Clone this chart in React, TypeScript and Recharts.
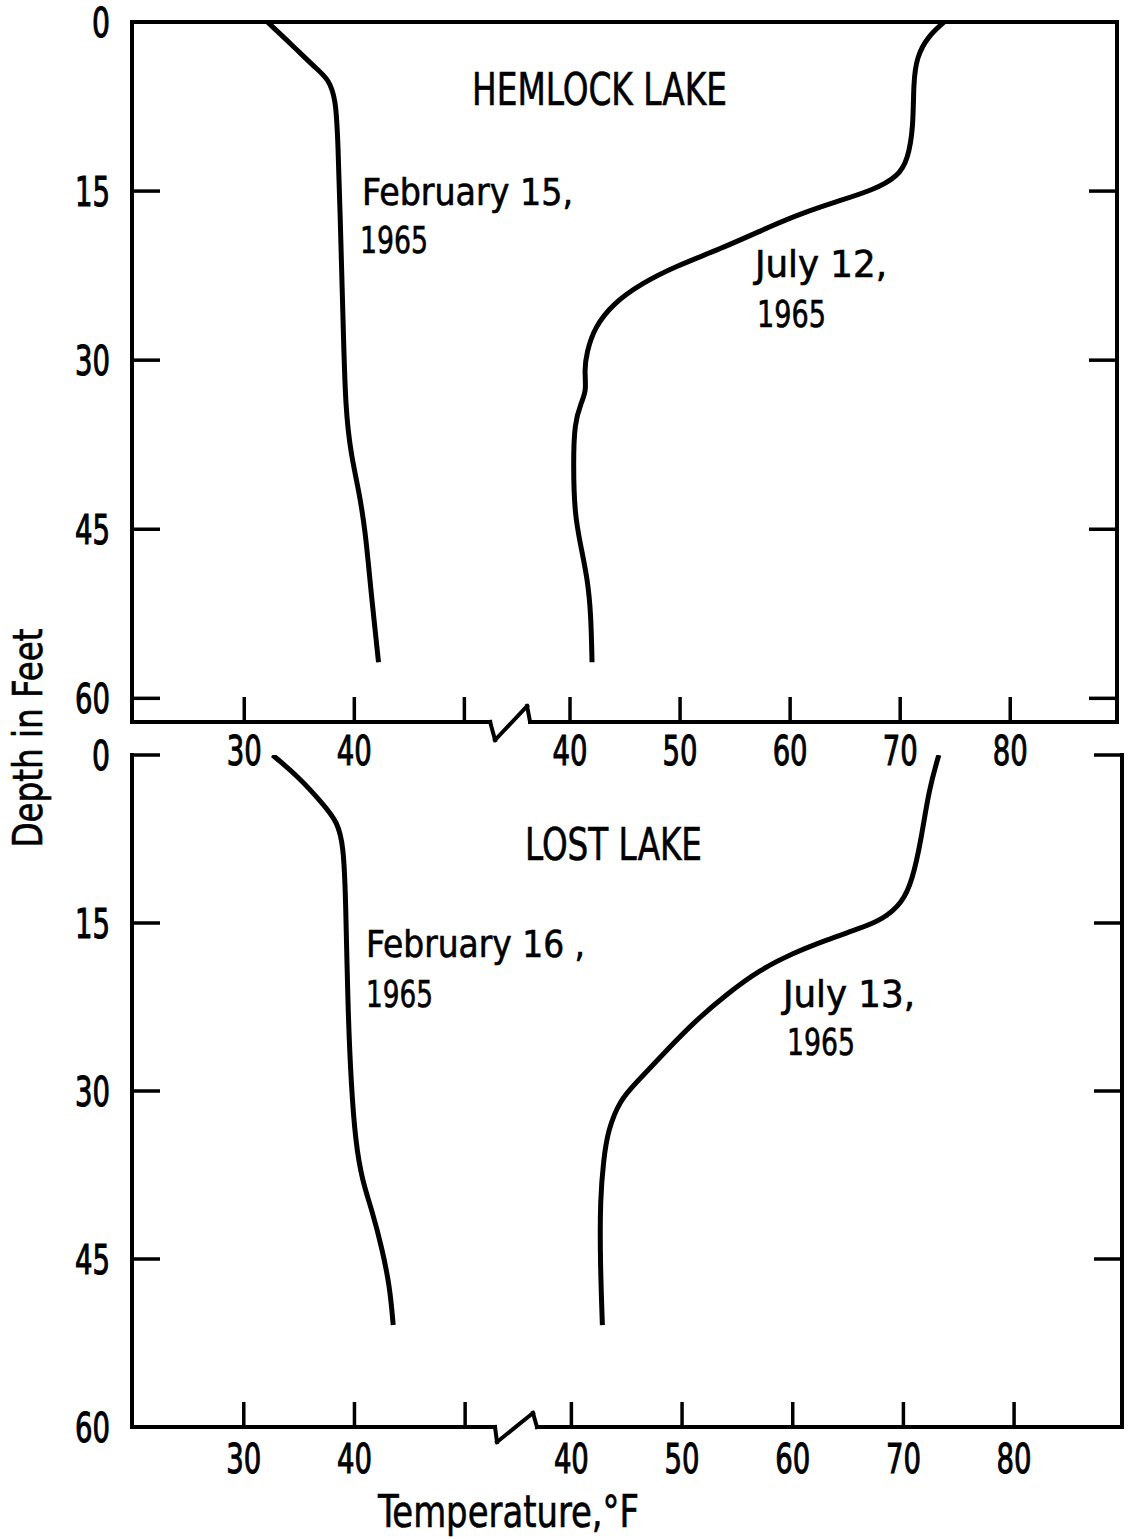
import React from 'react';
import { LineChart, Line, XAxis, YAxis, ReferenceLine } from 'recharts';

const FONT = '"Liberation Sans Narrow", "DejaVu Sans Condensed", "Liberation Sans", Arial, sans-serif';
const INK = '#000';

// ---- axis ticks / labels ----
const febAxisTicks = [30, 40, 50];
const febAxisLabels = ['30', '40', ''];
const julyAxisTicks = [40, 50, 60, 70, 80];
const julyAxisLabels = ['40', '50', '60', '70', '80'];
const depthTicks = [0, 15, 30, 45, 60];
const depthTickLabels = ['0', '15', '30', '45', '60'];

// the July scale sits to the right of the axis break
const JULY_SHIFT = 19.6;

// ---- Hemlock Lake (temperature °F at depth ft) ----
const hemlockFebDepth = [0, 2.0, 4.1, 5.1, 6.9, 9.9, 20.2, 27.3, 34.4, 38.4, 41.5, 45.1, 50.4, 56.8];
const hemlockFebTemp = [32.1, 34.3, 36.5, 37.7, 38.3, 38.5, 38.8, 39.0, 39.2, 39.7, 40.4, 41.0, 41.5, 42.2];
const hemlockJulDepth = [0, 1.3, 3.1, 5.4, 9.3, 12.2, 13.7, 14.9, 16.0, 17.0, 18.0, 20.0, 21.7, 23.2, 24.9, 27.1, 29.4, 30.9, 32.7, 33.8, 35.6, 39.1, 43.6, 46.6, 49.5, 52.5, 56.8];
const hemlockJulTemp = [74.0, 72.5, 71.5, 71.2, 71.2, 70.7, 69.8, 67.6, 64.0, 61.0, 58.5, 54.0, 49.5, 46.5, 44.0, 42.2, 41.5, 41.3, 41.5, 41.0, 40.4, 40.3, 40.4, 41.0, 41.6, 41.9, 42.0];

// ---- Lost Lake ----
const lostFebDepth = [0, 2.0, 4.3, 6.0, 8.2, 12.3, 22.6, 29.4, 34.6, 38.0, 40.7, 44.1, 47.5, 50.9];
const lostFebTemp = [32.6, 35.0, 37.1, 38.5, 39.0, 39.2, 39.4, 39.7, 40.1, 40.7, 41.6, 42.5, 43.2, 43.5];
const lostJulDepth = [0, 3.1, 7.6, 11.2, 13.2, 14.7, 15.5, 16.5, 17.7, 19.2, 21.3, 23.9, 27.0, 29.3, 30.8, 33.5, 36.2, 39.7, 45.1, 50.9];
const lostJulTemp = [73.2, 72.3, 71.6, 70.8, 69.9, 68.1, 66.0, 63.1, 60.0, 57.0, 54.1, 51.0, 48.0, 45.8, 44.4, 43.3, 42.9, 42.6, 42.6, 42.8];

const toPoints = (depths: number[], temps: number[], shift: number) =>
  depths.map((d, i) => ({ x: temps[i] + shift, depth: d }));

const xTickValues = [...febAxisTicks, ...julyAxisTicks.map((t) => t + JULY_SHIFT)];
const xTickLabels = [...febAxisLabels, ...julyAxisLabels];

const labelLen = (s: string) => (s.length <= 1 ? 18 : 35);

type PanelProps = {
  top: number;
  height: number;
  margin: { top: number; right: number; bottom: number; left: number };
  xDomain: [number, number];
  yMax: number;
  feb: { x: number; depth: number }[];
  jul: { x: number; depth: number }[];
  tickLineDepths: number[];
  topBorder: boolean;
  brk: { xs: number[]; low: number; high: number };
  xLabelDy: number;
};

function Panel(props: PanelProps) {
  const { top, height, margin, xDomain, yMax, feb, jul, tickLineDepths, topBorder, brk, xLabelDy } = props;

  const XTick = (p: any) => {
    const i = xTickValues.findIndex((t) => Math.abs(t - p.payload.value) < 1e-6);
    const lab = i >= 0 ? xTickLabels[i] : '';
    return (
      <g>
        <line x1={p.x} x2={p.x} y1={p.y} y2={p.y - 25} stroke={INK} strokeWidth={3.5} />
        {lab && (
          <text
            x={p.x}
            y={p.y + xLabelDy}
            textAnchor="middle"
            fontFamily={FONT}
            fontSize={41}
            fill={INK}
            stroke={INK}
            strokeWidth={1}
            textLength={labelLen(lab)}
            lengthAdjust="spacingAndGlyphs"
          >
            {lab}
          </text>
        )}
      </g>
    );
  };
  const LeftTick = (p: any) => {
    const v = p.payload.value;
    const i = depthTicks.indexOf(v);
    const lab = i >= 0 ? depthTickLabels[i] : '';
    return (
      <g>
        {tickLineDepths.includes(v) && (
          <line x1={p.x} x2={p.x + 28} y1={p.y} y2={p.y} stroke={INK} strokeWidth={3.5} />
        )}
        <text
          x={p.x - 22}
          y={p.y + 15}
          textAnchor="end"
          fontFamily={FONT}
          fontSize={41}
          fill={INK}
          stroke={INK}
          strokeWidth={1}
          textLength={labelLen(lab)}
          lengthAdjust="spacingAndGlyphs"
        >
          {lab}
        </text>
      </g>
    );
  };
  const RightTick = (p: any) => {
    const v = p.payload.value;
    return (
      <g>
        {tickLineDepths.includes(v) && (
          <line x1={p.x} x2={p.x - 28} y1={p.y} y2={p.y} stroke={INK} strokeWidth={3.5} />
        )}
      </g>
    );
  };

  const [a, b, c, d] = brk.xs;
  const axisSegs: [number, number, number, number][] = [
    [xDomain[0], yMax, a, yMax],
    [a, yMax, b, brk.low],
    [b, brk.low, c, brk.high],
    [c, brk.high, d, yMax],
    [d, yMax, xDomain[1], yMax],
  ];

  return (
    <div style={{ position: 'absolute', left: 0, top }}>
      <LineChart width={1131} height={height} margin={margin}>
        <XAxis
          type="number"
          dataKey="x"
          domain={xDomain}
          allowDataOverflow
          ticks={xTickValues}
          interval={0}
          height={1}
          tickSize={0}
          tickMargin={0}
          axisLine={false}
          tickLine={false}
          tick={XTick}
        />
        <YAxis
          yAxisId="left"
          type="number"
          dataKey="depth"
          domain={[0, yMax]}
          allowDataOverflow
          reversed
          ticks={depthTicks}
          interval={0}
          width={1}
          tickSize={0}
          tickMargin={0}
          axisLine={{ stroke: INK, strokeWidth: 4, strokeLinecap: 'square' }}
          tickLine={false}
          tick={LeftTick}
        />
        <YAxis
          yAxisId="right"
          orientation="right"
          type="number"
          domain={[0, yMax]}
          allowDataOverflow
          reversed
          ticks={depthTicks}
          interval={0}
          width={1}
          tickSize={0}
          tickMargin={0}
          axisLine={{ stroke: INK, strokeWidth: 4, strokeLinecap: 'square' }}
          tickLine={false}
          tick={RightTick}
        />
        {topBorder && (
          <ReferenceLine yAxisId="left" y={0} stroke={INK} strokeWidth={4} ifOverflow="visible" />
        )}
        {axisSegs.map((s, i) => (
          <ReferenceLine
            key={i}
            yAxisId="left"
            segment={[{ x: s[0], y: s[1] }, { x: s[2], y: s[3] }]}
            stroke={INK}
            strokeWidth={4}
            strokeLinecap="square"
            ifOverflow="visible"
          />
        ))}
        <Line
          yAxisId="left"
          data={feb}
          dataKey="depth"
          type="basis"
          stroke={INK}
          strokeWidth={5}
          dot={false}
          activeDot={false}
          isAnimationActive={false}
        />
        <Line
          yAxisId="left"
          data={jul}
          dataKey="depth"
          type="basis"
          stroke={INK}
          strokeWidth={5}
          dot={false}
          activeDot={false}
          isAnimationActive={false}
        />
      </LineChart>
    </div>
  );
}

const T = (p: { x: number; y: number; size: number; len: number; children: React.ReactNode }) => (
  <text
    x={p.x}
    y={p.y}
    fontFamily={FONT}
    fontSize={p.size}
    fill={INK}
    stroke={INK}
    strokeWidth={0.6}
    textLength={p.len}
    lengthAdjust="spacingAndGlyphs"
  >
    {p.children}
  </text>
);

export default function App() {
  return (
    <div style={{ position: 'absolute', left: 0, top: 0, width: 1131, height: 1539, background: '#fff' }}>
      <Panel
        top={0}
        height={780}
        margin={{ top: 22, right: 13, bottom: 57, left: 131 }}
        xDomain={[19.8, 109.3]}
        yMax={62.1}
        feb={toPoints(hemlockFebDepth, hemlockFebTemp, 0)}
        jul={toPoints(hemlockJulDepth, hemlockJulTemp, JULY_SHIFT)}
        tickLineDepths={[15, 30, 45, 60]}
        topBorder={true}
        brk={{ xs: [52.34, 52.79, 55.7, 55.97], low: 63.7, high: 60.68 }}
        xLabelDy={43}
      />
      <Panel
        top={720}
        height={819}
        margin={{ top: 35, right: 8, bottom: 111, left: 131 }}
        xDomain={[19.9, 109.35]}
        yMax={60}
        feb={toPoints(lostFebDepth, lostFebTemp, 0)}
        jul={toPoints(lostJulDepth, lostJulTemp, JULY_SHIFT)}
        tickLineDepths={[0, 15, 30, 45]}
        topBorder={false}
        brk={{ xs: [52.7, 52.88, 56.13, 56.49], low: 61.34, high: 58.75 }}
        xLabelDy={46}
      />
      <svg
        width={1131}
        height={1539}
        style={{ position: 'absolute', left: 0, top: 0, pointerEvents: 'none' }}
      >
        <T x={472} y={105} size={44} len={255}>HEMLOCK LAKE</T>
        <T x={362} y={205} size={38} len={211}>February 15,</T>
        <T x={360} y={253} size={38} len={68}>1965</T>
        <T x={755} y={277} size={38} len={132}>July 12,</T>
        <T x={757} y={327} size={38} len={69}>1965</T>
        <T x={525} y={860} size={44} len={177}>LOST LAKE</T>
        <T x={366} y={957} size={38} len={219}>February 16 ,</T>
        <T x={366} y={1007} size={38} len={67}>1965</T>
        <T x={783} y={1007} size={38} len={132}>July 13,</T>
        <T x={787} y={1055} size={38} len={68}>1965</T>
        <T x={378} y={1527} size={44} len={261}>Temperature,°F</T>
        <text
          transform="translate(42, 738) rotate(-90)"
          textAnchor="middle"
          fontFamily={FONT}
          fontSize={40}
          fill={INK}
          stroke={INK}
          strokeWidth={0.6}
          textLength={219}
          lengthAdjust="spacingAndGlyphs"
        >
          Depth in Feet
        </text>
      </svg>
    </div>
  );
}
